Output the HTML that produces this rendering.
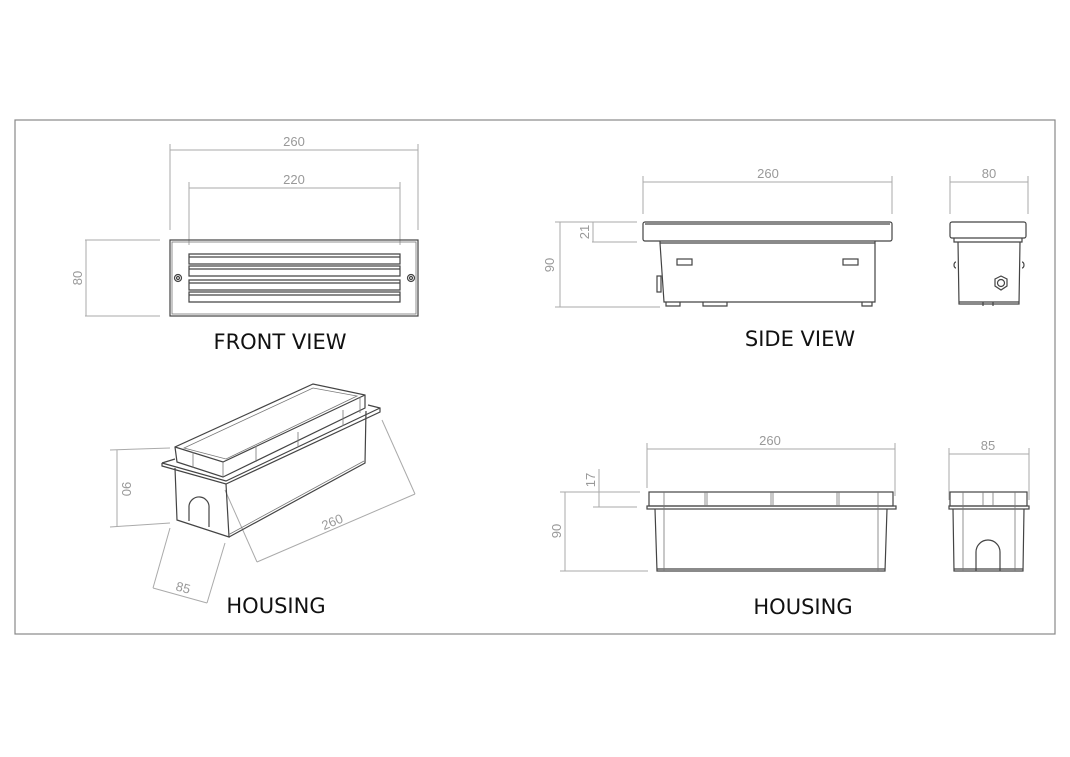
<!DOCTYPE html>
<html><head><meta charset="utf-8"><style>
html,body{margin:0;padding:0;background:#fff;}
svg{display:block;}
.d{stroke:#aaa;stroke-width:1;fill:none;}
.o{stroke:#444;stroke-width:1.2;fill:none;}
.t{stroke:#777;stroke-width:0.8;fill:none;}
.n{font-family:"Liberation Sans",sans-serif;font-size:13px;fill:#999;text-anchor:middle;}
.l{font-family:"DejaVu Sans","Liberation Sans",sans-serif;font-size:21px;fill:#111;text-anchor:middle;}
</style></head><body>
<svg width="1070" height="757" viewBox="0 0 1070 757" xmlns="http://www.w3.org/2000/svg">
<rect x="15" y="120" width="1040" height="514" fill="none" stroke="#888" stroke-width="1.2"/>

<!-- FRONT VIEW -->
<line class="d" x1="170" y1="150" x2="418" y2="150"/>
<line class="d" x1="170" y1="144" x2="170" y2="230"/>
<line class="d" x1="418" y1="144" x2="418" y2="230"/>
<text class="n" x="294" y="146">260</text>
<line class="d" x1="189" y1="188" x2="400" y2="188"/>
<line class="d" x1="189" y1="182" x2="189" y2="245"/>
<line class="d" x1="400" y1="182" x2="400" y2="245"/>
<text class="n" x="294" y="184">220</text>
<line class="d" x1="85" y1="240" x2="160" y2="240"/>
<line class="d" x1="85" y1="316" x2="160" y2="316"/>
<line class="d" x1="86" y1="240" x2="86" y2="316"/>
<text class="n" transform="translate(82,278) rotate(-90)">80</text>
<rect class="o" x="170" y="240" width="248" height="76"/>
<rect class="t" x="172" y="242" width="244" height="72"/>
<g class="o" stroke-width="1">
<path d="M189 254 H400 V264 H189 Z M189 257 H400"/>
<path d="M189 266 H400 V276 H189 Z M189 269 H400"/>
<path d="M189 280 H400 V290 H189 Z M189 283 H400"/>
<path d="M189 292 H400 V302 H189 Z M189 295 H400"/>
</g>
<circle class="o" cx="178" cy="278" r="3.5"/><circle class="o" cx="178" cy="278" r="1.5"/>
<circle class="o" cx="411" cy="278" r="3.5"/><circle class="o" cx="411" cy="278" r="1.5"/>
<text class="l" x="280" y="349">FRONT VIEW</text>

<!-- SIDE VIEW -->
<line class="d" x1="643" y1="182" x2="892" y2="182"/>
<line class="d" x1="643" y1="176" x2="643" y2="214"/>
<line class="d" x1="892" y1="176" x2="892" y2="214"/>
<text class="n" x="768" y="178">260</text>
<line class="d" x1="555" y1="222" x2="637" y2="222"/>
<line class="d" x1="592" y1="242" x2="637" y2="242"/>
<line class="d" x1="555" y1="307" x2="660" y2="307"/>
<line class="d" x1="560" y1="222" x2="560" y2="307"/>
<line class="d" x1="593" y1="222" x2="593" y2="242"/>
<text class="n" transform="translate(554,265) rotate(-90)">90</text>
<text class="n" transform="translate(589,232) rotate(-90)">21</text>
<rect class="o" x="643" y="222" width="249" height="19" rx="2"/>
<line class="o" x1="645" y1="224" x2="890" y2="224"/>
<path class="o" d="M660 241 V243 H875 V241 M660 243 L664 302 H875 V243"/>
<rect class="o" x="677" y="259" width="15" height="6"/>
<rect class="o" x="843" y="259" width="15" height="6"/>
<rect class="o" x="657" y="276" width="4" height="16"/>
<path class="o" d="M666 302 V306 H680 V302 M703 302 V306 H727 V302 M862 302 V306 H872 V302"/>
<text class="l" x="800" y="346">SIDE VIEW</text>
<!-- end -->
<line class="d" x1="950" y1="182" x2="1028" y2="182"/>
<line class="d" x1="950" y1="176" x2="950" y2="214"/>
<line class="d" x1="1028" y1="176" x2="1028" y2="214"/>
<text class="n" x="989" y="178">80</text>
<rect class="o" x="950" y="222" width="76" height="16" rx="2"/>
<path class="o" d="M954 238 V242 H1022 V238 M958 242 L959 304 H1019 L1020 242"/>
<line class="o" x1="959" y1="302" x2="1019" y2="302"/>
<path class="o" d="M956 262 a2 3 0 0 0 0 6 M1022 262 a2 3 0 0 1 0 6"/>
<path class="o" d="M995 279 L1001 276 L1007 279 L1007 286 L1001 290 L995 286 Z"/>
<circle class="o" cx="1001" cy="283" r="3.5"/>
<line class="o" x1="983" y1="302" x2="983" y2="306"/><line class="o" x1="993" y1="302" x2="993" y2="306"/>

<!-- HOUSING right -->
<line class="d" x1="647" y1="449" x2="895" y2="449"/>
<line class="d" x1="647" y1="443" x2="647" y2="488"/>
<line class="d" x1="895" y1="443" x2="895" y2="496"/>
<text class="n" x="770" y="445">260</text>
<line class="d" x1="560" y1="492" x2="640" y2="492"/>
<line class="d" x1="593" y1="507" x2="637" y2="507"/>
<line class="d" x1="560" y1="571" x2="648" y2="571"/>
<line class="d" x1="565" y1="492" x2="565" y2="571"/>
<line class="d" x1="599" y1="469" x2="599" y2="507"/>
<text class="n" transform="translate(561,531) rotate(-90)">90</text>
<text class="n" transform="translate(595,480) rotate(-90)">17</text>
<rect class="o" x="649" y="492" width="244" height="14"/>
<rect class="o" x="647" y="506" width="249" height="3"/>
<path class="o" d="M655 509 L657 571 H885 L887 509"/>
<line class="o" x1="657" y1="569" x2="885" y2="569"/>
<g class="t"><line x1="664" y1="492" x2="664" y2="571"/><line x1="878" y1="492" x2="878" y2="571"/>
<line x1="705" y1="492" x2="705" y2="506"/><line x1="707" y1="492" x2="707" y2="506"/>
<line x1="771" y1="492" x2="771" y2="506"/><line x1="773" y1="492" x2="773" y2="506"/>
<line x1="837" y1="492" x2="837" y2="506"/><line x1="839" y1="492" x2="839" y2="506"/></g>
<line class="d" x1="949" y1="454" x2="1029" y2="454"/>
<line class="d" x1="949" y1="448" x2="949" y2="500"/>
<line class="d" x1="1029" y1="448" x2="1029" y2="500"/>
<text class="n" x="988" y="450">85</text>
<rect class="o" x="950" y="492" width="77" height="14"/>
<rect class="o" x="949" y="506" width="80" height="3"/>
<path class="o" d="M953 509 L954 571 H1023 L1024 509"/>
<line class="o" x1="954" y1="569" x2="1023" y2="569"/>
<g class="t"><line x1="963" y1="492" x2="963" y2="571"/><line x1="1015" y1="492" x2="1015" y2="571"/>
<line x1="983" y1="492" x2="983" y2="506"/><line x1="993" y1="492" x2="993" y2="506"/></g>
<path class="o" d="M976 571 V552 a12 12 0 0 1 24 0 V571"/>
<text class="l" x="803" y="614">HOUSING</text>

<!-- HOUSING iso -->
<line class="d" x1="110" y1="450" x2="170" y2="448"/>
<line class="d" x1="110" y1="527" x2="170" y2="523"/>
<line class="d" x1="117" y1="450" x2="117" y2="527"/>
<text class="n" transform="translate(122,489) rotate(90)">90</text>
<line class="d" x1="170" y1="528" x2="153" y2="588"/>
<line class="d" x1="225" y1="543" x2="207" y2="603"/>
<line class="d" x1="153" y1="588" x2="207" y2="603"/>
<text class="n" transform="translate(182,592) rotate(15)">85</text>
<line class="d" x1="225" y1="490" x2="257" y2="562"/>
<line class="d" x1="382" y1="420" x2="415" y2="494"/>
<line class="d" x1="257" y1="562" x2="415" y2="494"/>
<text class="n" transform="translate(334,526) rotate(-23)">260</text>
<!-- flange -->
<path class="o" d="M162 463 L175 459 M162 463 L162 466 L226 484 L380 412 L380 408 L368 405"/>
<path class="o" d="M162 463 L226 481 L380 408"/>
<!-- body -->
<path class="o" d="M175 468 L177 520 L229 537 L226 484 M229 537 L365 463 L366 411"/>
<line class="t" x1="228" y1="535" x2="364" y2="461"/>
<!-- rim -->
<path class="o" d="M175 447 L177 462 L223 477 L365 408 L365 395 L313 384 L175 447 Z"/>
<path class="o" d="M175 447 L223 462 L365 395"/>
<path class="t" d="M184 448 L226 459 L357 396 L313 388 Z"/>
<g class="t"><line x1="223" y1="462" x2="223" y2="477"/><line x1="256" y1="446" x2="256" y2="462"/>
<line x1="298" y1="432" x2="298" y2="447"/><line x1="343" y1="410" x2="343" y2="426"/>
<line x1="193" y1="452" x2="193" y2="468"/><line x1="360" y1="397" x2="360" y2="413"/></g>
<path class="o" d="M189 521 V506 a10 10 0 0 1 20 2 V527"/>
<text class="l" x="276" y="613">HOUSING</text>
</svg>
</body></html>
